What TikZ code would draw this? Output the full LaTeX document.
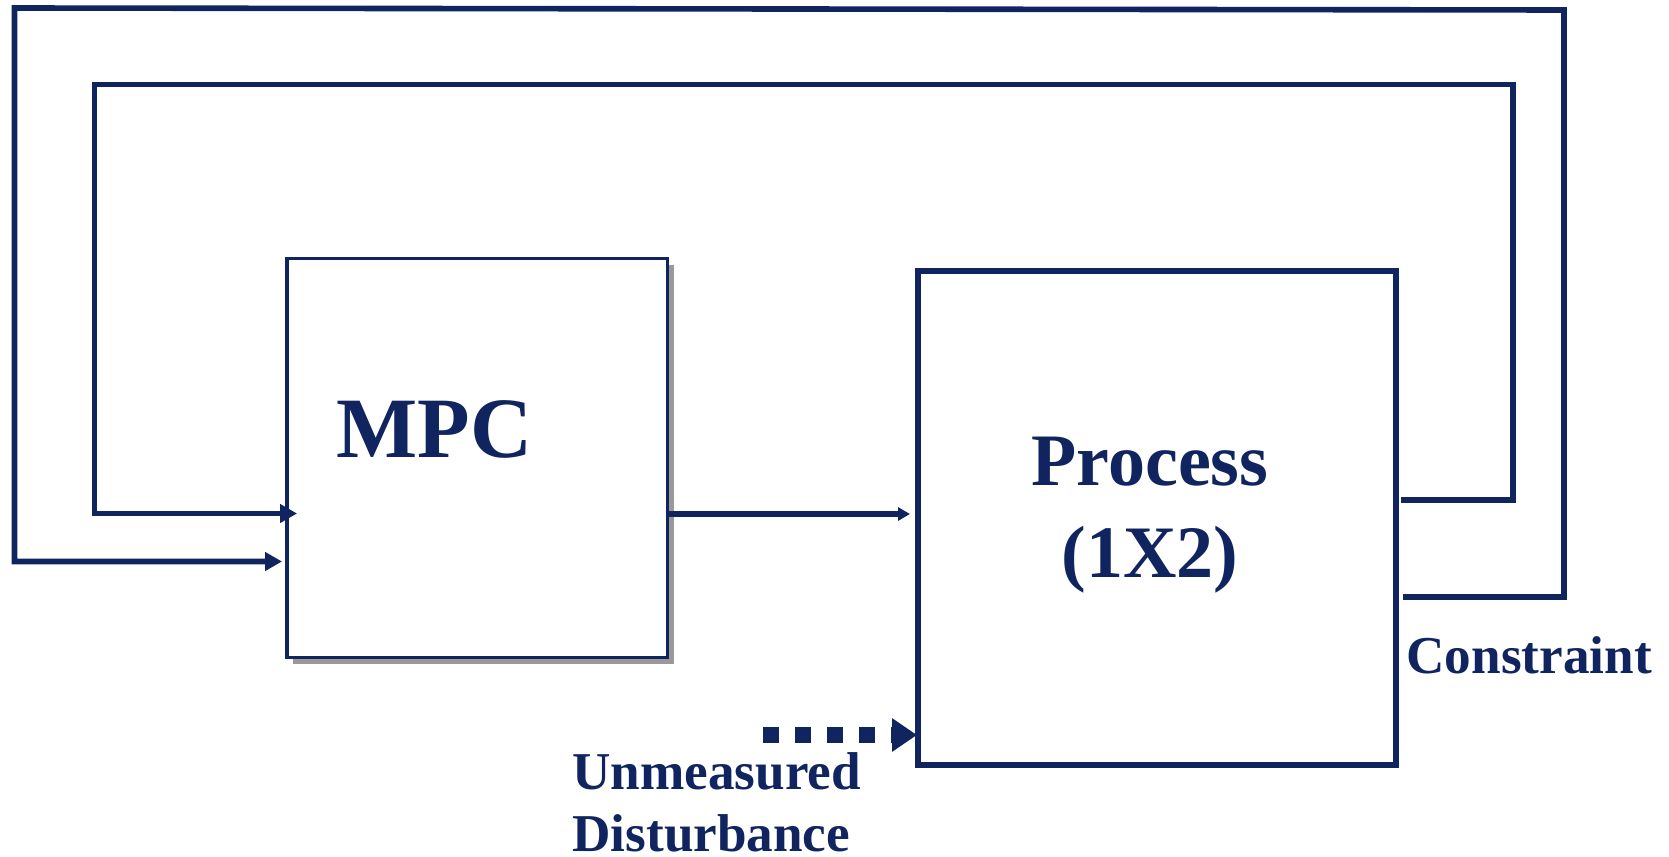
\documentclass[tikz,border=0pt]{standalone}
\usepackage{fontspec}
\setmainfont{Liberation Serif}
\usetikzlibrary{arrows.meta,shadows}
\definecolor{navy}{RGB}{16,36,96}
\definecolor{shadowgray}{RGB}{153,153,153}
\begin{document}
\begin{tikzpicture}[x=0.5pt,y=-0.5pt,
  wire/.style={draw=navy,line width=2.8pt,line join=miter},
  blockmpc/.style={draw=navy,line width=1.75pt,fill=white,minimum width=190.25pt,minimum height=199.5pt,inner sep=0pt,
    drop shadow={shadow xshift=3pt,shadow yshift=-3pt,fill=shadowgray,opacity=1}},
  blockproc/.style={draw=navy,line width=3pt,fill=white,minimum width=239pt,minimum height=247pt,inner sep=0pt},
  lbl/.style={text=navy,inner sep=0pt,font=\bfseries\fontsize{26.6}{30}\selectfont},
  tipA/.style={-{Triangle[length=8.5pt,width=9pt]}},
  tipB/.style={-{Triangle[length=6pt,width=6.5pt]}},
  tipC/.style={-{Triangle[length=12.5pt,width=16pt]}}]
\useasboundingbox (0,0) rectangle (1669,856);

\node[blockmpc] (mpc) at (477.25,458) {};
\node[blockproc] (proc) at (1157,518) {};

\node[text=navy,inner sep=0pt,anchor=base west,font=\bfseries\fontsize{43}{50}\selectfont] (mpctext) at (336,457) {MPC};
\node[text=navy,inner sep=0pt,anchor=base,font=\bfseries\fontsize{37}{44}\selectfont] (proctext1) at (1150,485) {Process};
\node[text=navy,inner sep=0pt,anchor=base,font=\bfseries\fontsize{37}{44}\selectfont] (proctext2) at (1150,577) {(1X2)};

\node[lbl,anchor=base west] (constraint) at (1406,673) {Constraint};
\node[lbl,anchor=base west] (unmeas) at (572,789) {Unmeasured};
\node[lbl,anchor=base west] (dist) at (572,851) {Disturbance};

% inner feedback loop
\draw[wire,tipA,shorten >=-5.9pt] ([xshift=1pt,yshift=9pt]proc.east) -- (1513,500) -- (1513,84.5) -- (94.5,84.5) -- (94.5,513.5) -- (mpc.west |- 0,513.5);
% outer feedback loop (constraint)
\draw[wire,tipA,shorten >=1.6pt] ([xshift=2pt,yshift=-39.5pt]proc.east) -- (1564,597) -- (1564,10) -- (14.5,8) -- (14.5,561.5) -- (mpc.west |- 0,561.5);
% MPC to process
\draw[wire,line width=2.6pt,tipB,shorten >=2.5pt] (mpc.east |- 0,514) -- (proc.west |- 0,514);
% unmeasured disturbance
\coordinate (dstart) at (763,735);
\draw[draw=navy,line width=8pt,dash pattern=on 8pt off 8pt,tipC,shorten >=-1pt] (dstart) -- (proc.west |- 0,735);
\end{tikzpicture}
\end{document}
